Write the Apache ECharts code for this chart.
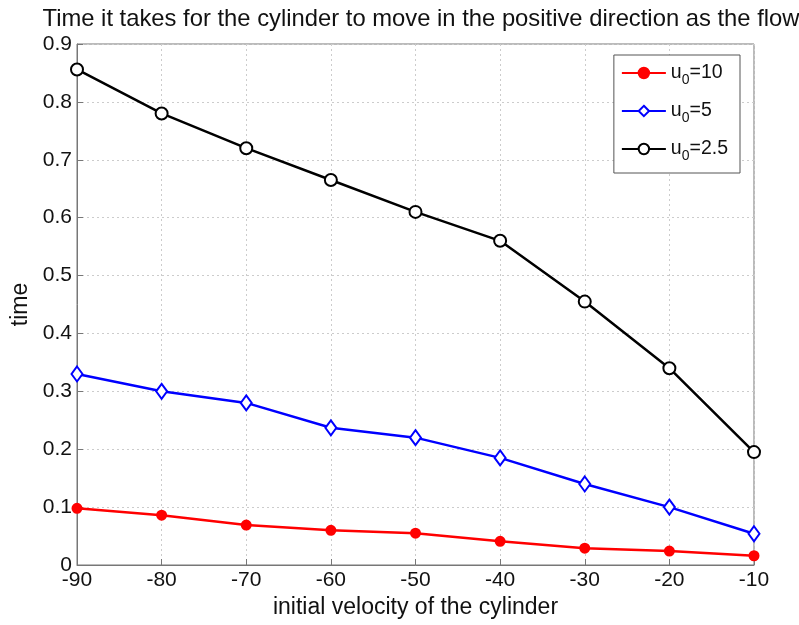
<!DOCTYPE html>
<html><head><meta charset="utf-8">
<script src="https://cdn.jsdelivr.net/npm/echarts@6/dist/echarts.min.js"></script>
<style>html,body{margin:0;padding:0;background:#fff}#c{width:799px;height:625px}</style>
</head><body><div id="c"></div>
<script>
const categories = [-90, -80, -70, -60, -50, -40, -30, -20, -10];
const u10 = [0.098, 0.086, 0.069, 0.060, 0.055, 0.041, 0.029, 0.024, 0.016];
const u5 = [0.330, 0.300, 0.280, 0.237, 0.220, 0.185, 0.140, 0.100, 0.054];
const u25 = [0.856, 0.780, 0.720, 0.665, 0.610, 0.560, 0.455, 0.340, 0.195];
const yTicks = [0, 0.1, 0.2, 0.3, 0.4, 0.5, 0.6, 0.7, 0.8, 0.9];
const seriesNames = ['u0=10', 'u0=5', 'u0=2.5'];

const font = 'Liberation Sans, Arial, sans-serif';
const chart = echarts.init(document.getElementById('c'), null, {renderer: 'canvas'});
function mk(name, vals, color, symbol, size, fill) {
  return {
    name, type: 'line',
    data: categories.map((c, i) => [c, vals[i]]),
    symbol, symbolSize: size, showSymbol: true,
    lineStyle: {color, width: 2.5},
    itemStyle: {color: fill, borderColor: color, borderWidth: 2},
    emphasis: {disabled: true},
    z: 3
  };
}
chart.setOption({
  animation: false,
  backgroundColor: '#fff',
  title: {
    text: 'Time it takes for the cylinder to move in the positive direction as the flow',
    left: 416, top: 2, textAlign: 'center',
    textStyle: {fontFamily: font, fontWeight: 'normal', fontSize: 23.8, color: '#111'}
  },
  grid: {left: 77, right: 45, top: 44, bottom: 60, show: true, borderColor: '#777', borderWidth: 1},
  legend: {
    right: 59, top: 55, orient: 'vertical',
    data: seriesNames,
    itemWidth: 44, itemHeight: 13, itemGap: 14,
    backgroundColor: '#fff', borderColor: '#555', borderWidth: 1,
    padding: [8, 12, 10, 7],
    textStyle: {fontFamily: font, fontSize: 18, color: '#111',
      rich: {b: {fontFamily: font, fontSize: 19.5, color: '#111'}, s: {fontFamily: font, fontSize: 14, color: '#111', padding: [14, 0, 0, 0]}}},
    formatter: n => { const p = n.split('='); return '{b|u}{s|0}{b|=' + p[1] + '}'; }
  },
  xAxis: {
    type: 'value', min: -90, max: -10, interval: 10,
    name: 'initial velocity of the cylinder', nameLocation: 'middle', nameGap: 31,
    nameTextStyle: {fontFamily: font, fontSize: 23, color: '#111'},
    axisLine: {show: true, lineStyle: {color: '#777'}},
    axisTick: {inside: true, length: 6, lineStyle: {color: '#777'}},
    axisLabel: {fontFamily: font, fontSize: 21, color: '#111', margin: 5},
    splitLine: {show: true, lineStyle: {color: '#ccc', type: [2, 3]}}
  },
  yAxis: {
    type: 'value', min: 0, max: 0.9, interval: 0.1,
    name: 'time', nameLocation: 'middle', nameGap: 44, nameRotate: 90,
    nameTextStyle: {fontFamily: font, fontSize: 23, color: '#111'},
    axisLine: {show: true, lineStyle: {color: '#777'}},
    axisTick: {inside: true, length: 6, lineStyle: {color: '#777'}},
    axisLabel: {fontFamily: font, fontSize: 21, color: '#111', margin: 5,
      formatter: v => { const t = yTicks.find(x => Math.abs(x - v) < 1e-9); return t === 0 ? '0' : String(+t.toFixed(1)); }},
    splitLine: {show: true, lineStyle: {color: '#ccc', type: [2, 3]}}
  },
  series: [
    mk(seriesNames[0], u10, '#ff0000', 'circle', 9, '#ff0000'),
    mk(seriesNames[1], u5, '#0000ff', 'diamond', [11, 15], '#fff'),
    mk(seriesNames[2], u25, '#000000', 'circle', 12, '#fff')
  ]
});
</script></body></html>
